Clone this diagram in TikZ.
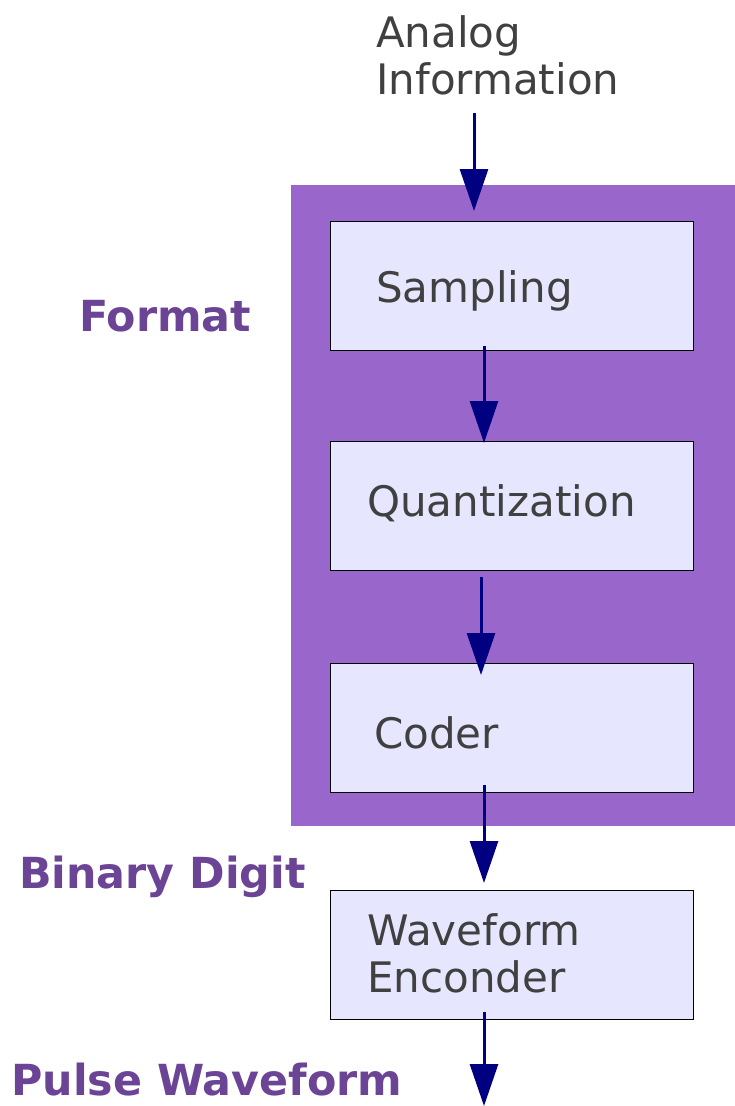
\documentclass[tikz,border=0pt]{standalone}
\usepackage{fontspec}
\setmainfont{DejaVu Sans}
\usetikzlibrary{arrows.meta}
\definecolor{bgpurple}{HTML}{9966CC}
\definecolor{boxfill}{HTML}{E6E6FF}
\definecolor{txtgray}{HTML}{404040}
\definecolor{lblpurple}{HTML}{6B4496}
\definecolor{arrnavy}{HTML}{000080}
\begin{document}
\begin{tikzpicture}[x=1pt,y=-1pt,
  stagebox/.style={draw=black,line width=0.8pt,fill=boxfill,minimum width=363pt,minimum height=129pt,inner sep=0pt,outer sep=0pt},
  stagetext/.style={anchor=base west,inner sep=0pt,text=txtgray,font=\fontsize{42}{47}\selectfont,align=left},
  sidelabel/.style={anchor=base west,inner sep=0pt,text=lblpurple,font=\fontsize{42.8}{47}\selectfont\bfseries},
  flow/.style={draw=arrnavy,line width=3pt,-{Triangle[width=28pt,length=42pt]},arrnavy}
]
\useasboundingbox (0,0) rectangle (735,1106);
\fill[bgpurple] (291,185) rectangle (735,826);
\node[stagebox] (samp) at (511.5,285.5) {};
\node[stagebox] (quant) at (511.5,505.5) {};
\node[stagebox] (coder) at (511.5,727.5) {};
\node[stagebox] (wave) at (511.5,954.5) {};
\node[stagetext] (tanalog) at (376,94) {Analog\\Information};
\node[stagetext] (tsamp) at (376,302) {Sampling};
\node[stagetext] (tquant) at (367,516) {Quantization};
\node[stagetext] (tcoder) at (374,748) {Coder};
\node[stagetext] (twave) at (367,992) {Waveform\\Enconder};
\node[sidelabel] (lformat) at (79,331) {Format};
\node[sidelabel] (lbinary) at (19,888) {Binary Digit};
\node[sidelabel] (lpulse) at (11,1095) {Pulse Waveform};
\coordinate (instart) at (474,113);
\coordinate (outend) at (484,1106);
\draw[flow] (instart) -- ([xshift=-37.5pt,yshift=10pt]samp.north);
\draw[flow] ([xshift=-27.5pt,yshift=4pt]samp.south) -- ([xshift=-27.5pt,yshift=-2pt]quant.north);
\draw[flow] ([xshift=-30.5pt,yshift=-7pt]quant.south) -- ([xshift=-30.5pt,yshift=-12pt]coder.north);
\draw[flow] ([xshift=-27.5pt,yshift=7pt]coder.south) -- ([xshift=-27.5pt,yshift=7pt]wave.north);
\draw[flow] ([xshift=-27.5pt,yshift=7pt]wave.south) -- (outend);
\end{tikzpicture}
\end{document}
